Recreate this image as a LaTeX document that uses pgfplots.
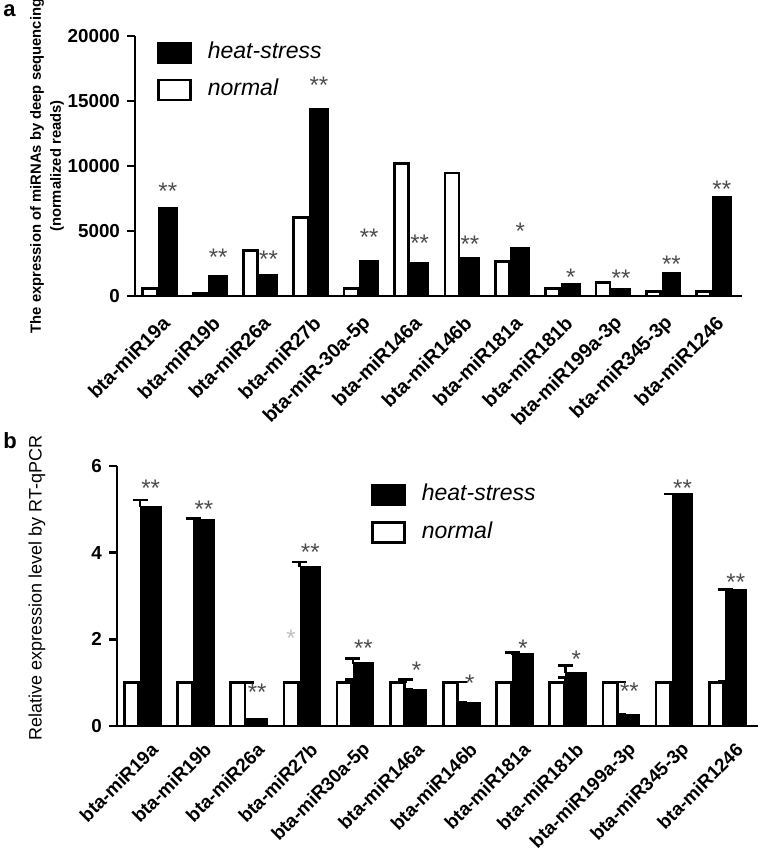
\documentclass[border=0pt]{standalone}
\usepackage{fontspec}
\setmainfont{Liberation Sans}
\usepackage{pgfplots}
\pgfplotsset{compat=1.18}
\pgfplotsset{
  mystyle/.style={
    scale only axis, clip=false,
    axis lines=left, axis line style={-, line width=1.2pt},
    tick align=outside, major tick length=4pt,
    xtick={0,...,11}, xtick style={draw=none},
    ytick style={line width=1.2pt, black},
    scaled y ticks=false,
    yticklabel style={font=\bfseries\fontsize{9.4}{10}\selectfont, /pgf/number format/assume math mode=true, /pgf/number format/1000 sep={}},
    legend cell align=left,
  },
  starstyle/.style={forget plot, only marks, mark=*, mark size=0pt, mark options={draw=none, fill=none},
    point meta=explicit symbolic, nodes near coords,
    nodes near coords style={anchor=center, font=\fontsize{12}{12}\selectfont, text=black!70, yshift=-2.5pt, inner sep=0pt}},
  blackleg/.style={legend image code/.code={\draw[fill=black,draw=black,line width=1.3pt] (0pt,-5.5pt) rectangle (16pt,4.5pt);}},
  whiteleg/.style={legend image code/.code={\draw[fill=white,draw=black,line width=1.3pt] (0pt,-5.5pt) rectangle (16pt,4.5pt);}},
}
\begin{document}
\begin{tikzpicture}
\path[use as bounding box] (0pt,0pt) rectangle (380.5pt,-426pt);
\node[anchor=base west, font=\bfseries\fontsize{11}{12}\selectfont, inner sep=0pt] at (1.5pt,-8pt) {a};
\node[anchor=base west, font=\bfseries\fontsize{11}{12}\selectfont, inner sep=0pt] at (1.5pt,-224pt) {b};
% ---------------- panel a ----------------
\begin{axis}[mystyle,
  at={(67.5pt,-148pt)}, anchor=south west,
  width=303.5pt, height=130pt,
  xmin=-0.457, xmax=11.596, ymin=0, ymax=20000,
  ytick={0,5000,10000,15000,20000},
  xticklabels={bta-miR19a,bta-miR19b,bta-miR26a,bta-miR27b,bta-miR-30a-5p,bta-miR146a,bta-miR146b,bta-miR181a,bta-miR181b,bta-miR199a-3p,bta-miR345-3p,bta-miR1246},
  xticklabel style={font=\bfseries\fontsize{9.8}{10}\selectfont, xshift=6.5pt, yshift=-5.5pt, rotate=45, anchor=east},
  ylabel={The expression of miRNAs by deep sequencing\\(normalized reads)},
  ylabel style={font=\bfseries\fontsize{7.4}{10}\selectfont, align=center, at={(axis description cs:-0.145,0.5)}, anchor=center},
  legend style={draw=none, fill=none, at={(rel axis cs:0.036,0.986)}, anchor=north west, inner sep=0pt,
    font=\itshape\fontsize{11.5}{12}\selectfont, row sep=6.5pt, column sep=7pt, nodes={inner sep=1pt}},
]
\addplot[ybar, blackleg, bar width=0.34, bar shift=0.194, fill=black, draw=black, line width=1.3pt]
  coordinates {(0,6750) (1,1490) (2,1590) (3,14340) (4,2670) (5,2540) (6,2900) (7,3650) (8,880) (9,515) (10,1750) (11,7620)};
\addlegendentry{heat-stress}
\addplot[ybar, whiteleg, bar width=0.28, bar shift=-0.164, fill=white, draw=black, line width=1.3pt]
  coordinates {(0,600) (1,200) (2,3490) (3,6050) (4,570) (5,10185) (6,9460) (7,2670) (8,570) (9,1050) (10,360) (11,340)};
\addlegendentry{normal}
\addplot[starstyle] coordinates {(0.194,8460)[**] (1.194,3385)[**] (2.194,3230)[**] (3.194,16615)[**] (4.194,4920)[**] (5.194,4420)[**] (6.194,4380)[**] (7.194,5380)[*] (8.194,1810)[*] (9.194,1730)[**] (10.194,2850)[**] (11.194,8615)[**]};
\end{axis}
% ---------------- panel b ----------------
\begin{axis}[mystyle,
  at={(58.5pt,-363pt)}, anchor=south west,
  width=320.5pt, height=130pt,
  xmin=-0.4325, xmax=11.62, ymin=0, ymax=6,
  ytick={0,2,4,6},
  xticklabels={bta-miR19a,bta-miR19b,bta-miR26a,bta-miR27b,bta-miR30a-5p,bta-miR146a,bta-miR146b,bta-miR181a,bta-miR181b,bta-miR199a-3p,bta-miR345-3p,bta-miR1246},
  xticklabel style={font=\bfseries\fontsize{9.4}{10}\selectfont, xshift=9.75pt, yshift=-3.8pt, rotate=45, anchor=east},
  ylabel={Relative expression level by RT-qPCR},
  ylabel style={font=\fontsize{9}{10}\selectfont, at={(axis description cs:-0.125,0.53)}, anchor=center},
  legend style={draw=none, fill=none, at={(rel axis cs:0.396,0.939)}, anchor=north west, inner sep=0pt,
    font=\itshape\fontsize{11.5}{12}\selectfont, row sep=6.5pt, column sep=7pt, nodes={inner sep=1pt}},
]
\addplot[ybar, blackleg, bar width=0.357, bar shift=0.202, fill=black, draw=black, line width=1.3pt,
  error bars/.cd, y dir=plus, y explicit, error bar style={line width=1.2pt, black}, error mark options={rotate=90, mark size=3.75pt, line width=1.2pt, black}]
  coordinates {(0,5.05) +- (0,0.16) (1,4.75) +- (0,0.04) (2,0.15) +- (0,0.01) (3,3.66) +- (0,0.12) (4,1.44) +- (0,0.12) (5,0.82) +- (0,0.03) (6,0.53) +- (0,0.01) (7,1.65) +- (0,0.05) (8,1.22) +- (0,0.18) (9,0.25) +- (0,0.02) (10,5.34) +- (0,0.02) (11,3.13) +- (0,0.02)};
\addlegendentry{heat-stress}
\addplot[ybar, whiteleg, bar width=0.27, bar shift=-0.16, fill=white, draw=black, line width=1.3pt,
  error bars/.cd, y dir=plus, y explicit, error bar style={line width=1.2pt, black}, error mark options={rotate=90, mark size=3.75pt, line width=1.2pt, black}]
  coordinates {(0,1) +- (0,0) (1,1) +- (0,0) (2,1) +- (0,0) (3,1) +- (0,0) (4,1) +- (0,0.07) (5,1) +- (0,0.07) (6,1) +- (0,0.02) (7,1) +- (0,0.02) (8,1) +- (0,0.12) (9,1) +- (0,0.02) (10,1) +- (0,0) (11,1) +- (0,0.03)};
\addlegendentry{normal}
\addplot[starstyle] coordinates {(0.202,5.61)[**] (1.202,5.11)[**] (2.202,0.90)[**] (3.202,4.13)[**] (4.202,1.90)[**] (5.202,1.41)[*] (6.202,1.11)[*] (7.202,1.92)[*] (8.202,1.65)[*] (9.202,0.92)[**] (10.202,5.61)[**] (11.202,3.44)[**]};
\addplot[starstyle, nodes near coords style={text=black!25}] coordinates {(2.84,2.15)[*]};
\end{axis}
\end{tikzpicture}
\end{document}
